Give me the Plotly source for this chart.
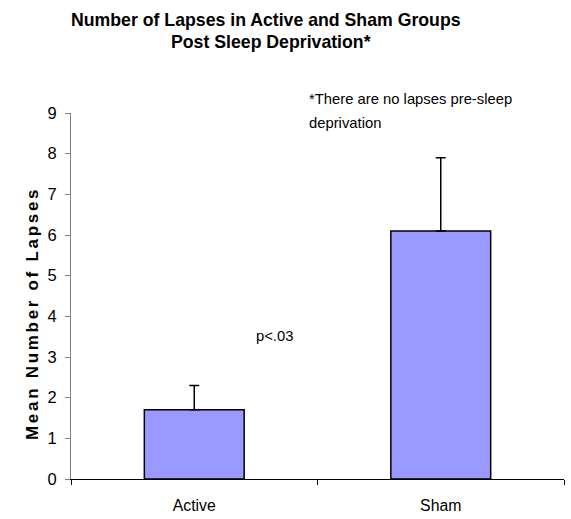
import plotly.graph_objects as go

# Mean lapses after sleep deprivation, with upper standard error
groups = ["Active", "Sham"]
mean_lapses = [1.7, 6.1]
error_plus = [0.6, 1.8]
y_ticks = [0, 1, 2, 3, 4, 5, 6, 7, 8, 9]

W, H = 571, 519
L, R, T, B = 71, 7, 113, 40
pw, ph = W - L - R, H - T - B


def px(x):
    return (x - L) / pw


def py(y):
    return (H - B - y) / ph


family = "Liberation Sans, Arial, sans-serif"

fig = go.Figure(
    go.Bar(
        x=groups,
        y=mean_lapses,
        marker=dict(color="#9999FF", line=dict(color="#000000", width=1.5)),
        error_y=dict(type="data", symmetric=False, array=error_plus,
                     arrayminus=[0, 0], color="#000000", thickness=1.5, width=5),
        width=0.405,
    )
)

fig.update_layout(
    width=W, height=H,
    margin=dict(l=L, r=R, t=T, b=B),
    paper_bgcolor="white", plot_bgcolor="white",
    showlegend=False,
    font=dict(family=family, color="#000000"),
    xaxis=dict(
        showline=True, linecolor="#000000", linewidth=1, automargin=False,
        ticks="outside", tickson="boundaries", ticklen=5, tickcolor="#000000",
        tickfont=dict(size=15.8), showgrid=False, ticklabelstandoff=12,
    ),
    yaxis=dict(
        range=[0, 9], tickvals=y_ticks, showline=True, linecolor="#808080",
        linewidth=1, ticks="outside", ticklen=5, tickcolor="#808080",
        tickfont=dict(size=16.5), showgrid=False, zeroline=False,
        ticklabelstandoff=5, automargin=False,
    ),
)

annotations = [
    dict(text="<b>Number of Lapses in Active and Sham Groups</b>",
         x=px(266), y=py(20), font=dict(size=17.7)),
    dict(text="<b>Post Sleep Deprivation*</b>",
         x=px(271), y=py(42), font=dict(size=17.7)),
    dict(text="<span style='letter-spacing:2.7px'><b>Mean Number of Lapses</b></span>",
         x=px(32), y=py(314), textangle=-90, font=dict(size=17)),
    dict(text="*There are no lapses pre-sleep", x=px(307), y=py(99),
         xanchor="left", font=dict(size=14.8)),
    dict(text="deprivation", x=px(307), y=py(123),
         xanchor="left", font=dict(size=14.8)),
    dict(text="p<.03", x=px(254), y=py(336), xanchor="left", font=dict(size=14.8)),
]
for a in annotations:
    a.setdefault("xanchor", "center")
    fig.add_annotation(xref="paper", yref="paper", showarrow=False,
                       yanchor="middle", **a)

fig.write_html("out.html")
